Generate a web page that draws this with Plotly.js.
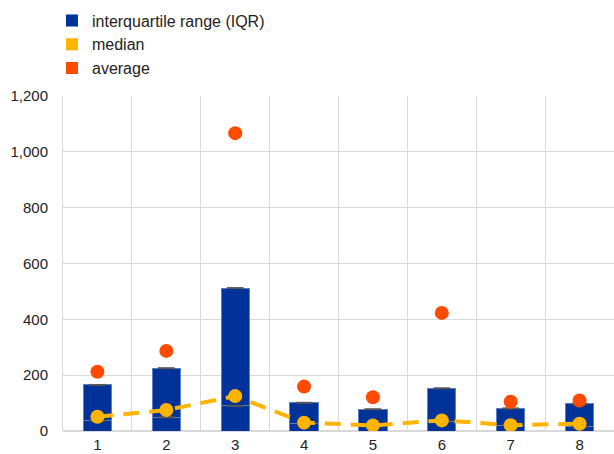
<!DOCTYPE html>
<html><head><meta charset="utf-8">
<script src="https://cdn.plot.ly/plotly-3.0.1.min.js"></script>
<style>body{margin:0;padding:0;}#c{width:614px;height:454px;}</style>
</head><body><div id="c"></div>
<script>
const categories = [1, 2, 3, 4, 5, 6, 7, 8];
const q1 = [37, 49, 90, 28, 20, 33, 21, 15];
const q3 = [165, 225, 512, 101, 78, 153, 81, 97];
const median = [51, 75, 125, 30, 20, 38, 21, 26];
const average = [212, 287, 1067, 159, 121, 423, 105, 109];
const yTicks = [0, 200, 400, 600, 800, 1000, 1200];

const blue = '#003299', yellow = '#FFB400', orange = '#FF4B00';
const iqrHeight = q3.map((v, i) => v - q1[i]);

const traces = [
  {type: 'bar', x: categories, y: q1, marker: {color: blue, line: {color: '#5b7fc0', width: 1}}, width: 0.41, showlegend: false, hoverinfo: 'skip'},
  {type: 'bar', x: categories, y: iqrHeight, marker: {color: blue, line: {color: '#5b7fc0', width: 1}}, width: 0.41, showlegend: false},
  {type: 'scatter', mode: 'markers', x: categories, y: q3, marker: {symbol: 'line-ew', size: 12, line: {color: '#555555', width: 2}}, showlegend: false, hoverinfo: 'skip'},
  {type: 'scatter', mode: 'markers', x: categories, y: q1, marker: {symbol: 'line-ew', size: 12, line: {color: '#555555', width: 2}}, showlegend: false, hoverinfo: 'skip'},
  {type: 'scatter', mode: 'lines+markers', x: categories, y: median, line: {color: yellow, width: 4, dash: '16px,10px'}, marker: {color: yellow, size: 14}, showlegend: false},
  {type: 'scatter', mode: 'markers', x: categories, y: average, marker: {color: orange, size: 14}, showlegend: false},
  {type: 'bar', x: [null], y: [null], name: 'interquartile range (IQR)', marker: {color: blue}},
  {type: 'bar', x: [null], y: [null], name: 'median', marker: {color: yellow}},
  {type: 'bar', x: [null], y: [null], name: 'average', marker: {color: orange}}
];

const layout = {
  width: 614, height: 454,
  margin: {l: 63, r: 0, t: 96, b: 23, autoexpand: false},
  paper_bgcolor: '#ffffff', plot_bgcolor: '#ffffff',
  barmode: 'stack',
  font: {family: 'Liberation Sans, Arial, sans-serif', size: 15, color: '#222222'},
  showlegend: true,
  legend: {x: -0.02, xref: 'paper', y: 1.276, yref: 'paper', yanchor: 'top', xanchor: 'left', traceorder: 'normal', tracegroupgap: 0, font: {size: 16, color: '#222222'}, bgcolor: 'rgba(0,0,0,0)'},
  xaxis: {
    range: [0.5, 8.5], tickvals: categories, ticktext: categories.map(String),
    showgrid: false, zeroline: false, showline: false, ticks: '', ticklabelstandoff: 3,
    tickfont: {size: 15, color: '#222222'},
    minor: {tick0: 0.5, dtick: 1, showgrid: true, gridcolor: '#d9d9d9', gridwidth: 1, ticks: ''}
  },
  yaxis: {
    range: [0, 1200], tickvals: yTicks, tickformat: ',',
    showgrid: true, gridcolor: '#d9d9d9', gridwidth: 1, zeroline: true, zerolinecolor: '#d9d9d9', zerolinewidth: 2,
    showline: true, linecolor: '#d9d9d9', linewidth: 1, ticks: '', ticklabelstandoff: 11,
    tickfont: {size: 15, color: '#222222'}
  }
};

Plotly.newPlot('c', traces, layout, {displayModeBar: false, staticPlot: true});
</script>
</body></html>
